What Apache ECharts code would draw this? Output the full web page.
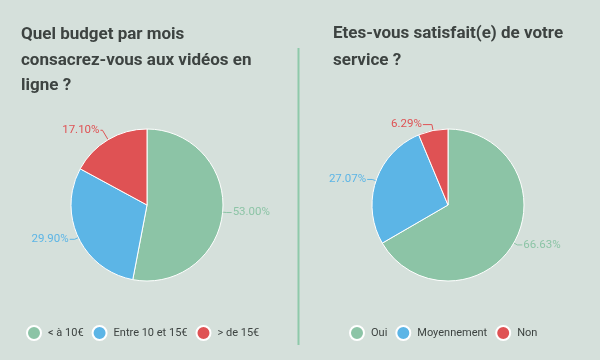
<!DOCTYPE html>
<html><head><meta charset="utf-8">
<script src="https://cdn.jsdelivr.net/npm/echarts@6/dist/echarts.min.js"></script>
<style>html,body{margin:0;padding:0;background:#d5e0db}#c{width:600px;height:360px}</style>
</head><body><div id="c"></div>
<script>
const budgetCategories = ['< à 10€', 'Entre 10 et 15€', '> de 15€'];
const budgetValues = [53.00, 29.90, 17.10];
const satisfCategories = ['Oui', 'Moyennement', 'Non'];
const satisfValues = [66.63, 27.07, 6.29];
const colors = ['#8cc4a6', '#5cb5e6', '#df5254'];
const titleLeft = 'Quel budget par mois\nconsacrez-vous aux vidéos en\nligne ?';
const titleRight = 'Etes-vous satisfait(e) de votre\nservice ?';

const chart = echarts.init(document.getElementById('c'));
function pieSeries(cats, vals, cx, lineOverrides) {
  return {
    type: 'pie', radius: 76, center: [cx, 205], startAngle: 90, clockwise: true,
    itemStyle: { borderColor: '#ffffff', borderWidth: 1 },
    label: { formatter: p => p.value.toFixed(2) + '%', fontFamily: 'Roboto', fontSize: 11.5, distanceToLabelLine: 1 },
    labelLine: { length: 4, length2: 5, lineStyle: { width: 1 } },
    emphasis: { scale: false },
    data: cats.map((c, i) => {
      const d = { name: c, value: vals[i], label: { color: colors[i] } };
      if (lineOverrides[i]) d.labelLine = lineOverrides[i];
      return d;
    })
  };
}
const legendText = { fontFamily: 'Roboto', fontSize: 11, color: '#3d4341', padding: [0, 0, 0, 2] };
chart.setOption({
  backgroundColor: '#d5e0db',
  color: colors,
  animation: false,
  title: [
    { text: titleLeft, left: 16, top: 17, textStyle: { fontFamily: 'Roboto', fontWeight: 'bold', fontSize: 17, color: '#3d4341', lineHeight: 25.5 } },
    { text: titleRight, left: 328, top: 15, textStyle: { fontFamily: 'Roboto', fontWeight: 'bold', fontSize: 17, color: '#3d4341', lineHeight: 27 } }
  ],
  legend: [
    { data: budgetCategories, left: 21, top: 320, icon: 'circle', itemWidth: 14, itemHeight: 14, itemGap: 8, textStyle: legendText },
    { data: satisfCategories, left: 344, top: 320, icon: 'circle', itemWidth: 14, itemHeight: 14, itemGap: 8, textStyle: legendText }
  ],
  graphic: [
    { type: 'line', shape: { x1: 298.5, y1: 48, x2: 298.5, y2: 345 }, style: { stroke: '#8ec9aa', lineWidth: 2 } }
  ],
  series: [
    pieSeries(budgetCategories, budgetValues, 147, [null, null, { length: 11, length2: 2 }]),
    pieSeries(satisfCategories, satisfValues, 448, [null, null, { length: 6, length2: 9 }])
  ]
});
</script></body></html>
